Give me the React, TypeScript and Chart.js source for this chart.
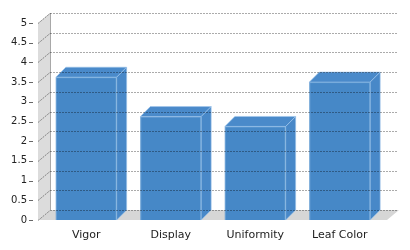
import React, { useEffect, useRef } from "react";
import { Chart, registerables } from "chart.js";

Chart.register(...registerables);

const categories = ["Vigor", "Display", "Uniformity", "Leaf Color"];
const scores = [3.625, 2.625, 2.375, 3.5];
const yMin = 0;
const yMax = 5;
const yStep = 0.5;

const DX = 10;
const DY = 10;

const threeD = {
  id: "threeD",
  beforeDatasetsDraw(chart: any) {
    const { ctx, chartArea } = chart;
    const y = chart.scales.y;
    const top = y.getPixelForValue(yMax);
    const bottom = y.getPixelForValue(yMin);
    const wf = chartArea.left - 6;
    const wb = wf + 12;
    const fr = chartArea.right + 5;
    ctx.save();
    // wall
    ctx.fillStyle = "#dcdcdc";
    ctx.beginPath();
    ctx.moveTo(wf, top);
    ctx.lineTo(wb, top - DY);
    ctx.lineTo(wb, bottom - DY);
    ctx.lineTo(wf, bottom);
    ctx.closePath();
    ctx.fill();
    ctx.strokeStyle = "#a8a8a8";
    ctx.lineWidth = 1;
    ctx.beginPath();
    ctx.moveTo(wb + 0.5, top - DY);
    ctx.lineTo(wb + 0.5, bottom - DY);
    ctx.stroke();
    // floor
    ctx.fillStyle = "#d6d6d6";
    ctx.beginPath();
    ctx.moveTo(wf, bottom);
    ctx.lineTo(wb, bottom - DY);
    ctx.lineTo(fr + 12, bottom - DY);
    ctx.lineTo(fr, bottom);
    ctx.closePath();
    ctx.fill();
    // tick dashes
    ctx.strokeStyle = "#666";
    for (let v = yMin; v <= yMax + 1e-9; v += yStep) {
      const py = Math.round(y.getPixelForValue(v)) + 0.5;
      ctx.beginPath();
      ctx.moveTo(chartArea.left - 15, py);
      ctx.lineTo(chartArea.left - 11, py);
      ctx.stroke();
    }
    ctx.restore();
  },
  afterDatasetsDraw(chart: any) {
    const { ctx, chartArea } = chart;
    const y = chart.scales.y;
    const meta = chart.getDatasetMeta(0);
    ctx.save();
    meta.data.forEach((bar: any) => {
      const { x, y: top, base, width } = bar.getProps(["x", "y", "base", "width"], true);
      const l = x - width / 2;
      const r = x + width / 2;
      // top face
      ctx.fillStyle = "#4a8aca";
      ctx.beginPath();
      ctx.moveTo(l, top);
      ctx.lineTo(l + DX, top - DY);
      ctx.lineTo(r + DX, top - DY);
      ctx.lineTo(r, top);
      ctx.closePath();
      ctx.fill();
      ctx.strokeStyle = "rgba(160,198,236,0.6)";
      ctx.lineWidth = 1;
      ctx.stroke();
      // side face
      ctx.fillStyle = "#4888c8";
      ctx.beginPath();
      ctx.moveTo(r, top);
      ctx.lineTo(r + DX, top - DY);
      ctx.lineTo(r + DX, base - DY);
      ctx.lineTo(r, base);
      ctx.closePath();
      ctx.fill();
      ctx.stroke();
      // front edges
      ctx.strokeStyle = "rgba(140,185,228,0.55)";
      ctx.beginPath();
      ctx.moveTo(l + 0.5, base);
      ctx.lineTo(l + 0.5, top + 0.5);
      ctx.lineTo(r - 0.5, top + 0.5);
      ctx.lineTo(r - 0.5, base);
      ctx.stroke();
    });
    // grid lines on back wall + slants
    const wf = chartArea.left - 6;
    const wb = wf + 12;
    const gr = chartArea.right + 16;
    ctx.setLineDash([2, 1]);
    ctx.lineWidth = 1;
    for (let v = yMin; v <= yMax + 1e-9; v += yStep) {
      const py = Math.round(y.getPixelForValue(v));
      ctx.strokeStyle = "rgba(0,0,0,0.33)";
      ctx.beginPath();
      ctx.moveTo(wb, py - DY + 0.5);
      ctx.lineTo(gr, py - DY + 0.5);
      ctx.stroke();
      ctx.strokeStyle = "rgba(0,0,0,0.4)";
      ctx.beginPath();
      ctx.moveTo(wf, py + 0.5);
      ctx.lineTo(wb, py - DY + 0.5);
      ctx.stroke();
    }
    ctx.restore();
  },
};

export default function App() {
  const ref = useRef<HTMLCanvasElement | null>(null);
  useEffect(() => {
    document.body.style.margin = "0";
    const canvas = ref.current!;
    const chart = new Chart(canvas, {
      type: "bar",
      data: {
        labels: categories,
        datasets: [
          {
            data: scores,
            backgroundColor: "#4688c7",
            borderWidth: 0,
            categoryPercentage: 1,
            barPercentage: 0.72,
          },
        ],
      },
      options: {
        animation: false,
        responsive: false,
        devicePixelRatio: 1,
        layout: { padding: { top: 20, right: 28, left: 0, bottom: 0 } },
        plugins: { legend: { display: false }, tooltip: { enabled: false } },
        scales: {
          x: {
            grid: { display: false, drawTicks: false },
            border: { display: false },
            ticks: {
              padding: 9,
              color: "#222",
              font: { family: "DejaVu Sans", size: 11 },
            },
            afterFit: (s: any) => {
              s.height = 30;
            },
          },
          y: {
            min: yMin,
            max: yMax,
            grid: { display: false, drawTicks: false },
            border: { display: false },
            ticks: {
              stepSize: yStep,
              padding: 17,
              color: "#222",
              font: { family: "DejaVu Sans", size: 10 },
              callback: (v: any) => String(Number(v)),
            },
            afterFit: (s: any) => {
              s.width = 44;
            },
          },
        },
      },
      plugins: [threeD],
    });
    return () => chart.destroy();
  }, []);
  return <canvas ref={ref} width={410} height={250} style={{ display: "block" }} />;
}
